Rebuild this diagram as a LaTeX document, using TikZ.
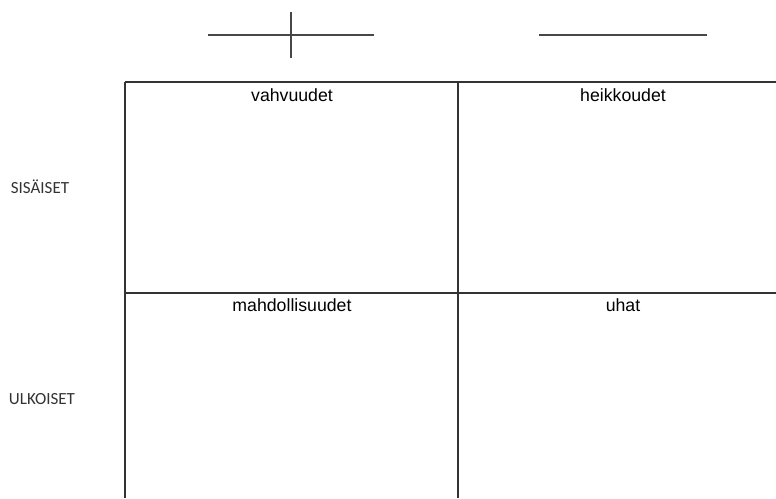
\documentclass[tikz,border=0pt]{standalone}
\usepackage{fontspec}
\setmainfont{Liberation Sans}
\newfontfamily\carlito{Carlito}
\usetikzlibrary{positioning}
\definecolor{inkgray}{HTML}{333333}
\tikzset{
  % ruudukko
  gridline/.style={draw=inkgray,line width=1.8pt},
  signline/.style={draw=inkgray!90,line width=1.6pt},
  cellhead/.style={font=\fontsize{17.7}{19}\selectfont,text=black,inner sep=0pt},
  rowlab/.style={font=\carlito\fontsize{17}{19}\selectfont,text=inkgray,inner sep=0pt},
}
\begin{document}
\begin{tikzpicture}[x=1pt,y=-1pt]
  \useasboundingbox (0,0) rectangle (776,498);
  % plus ja miinus
  \draw[signline] (208,35) -- (374,35);
  \draw[signline] (291,12) -- (291,58);
  \draw[signline] (539,35) -- (707,35);
  % ruudukko
  \coordinate (tl) at (125,82);
  \coordinate (tm) at (458,82);
  \coordinate (tr) at (776,82);
  \coordinate (ml) at (125,293);
  \coordinate (mr) at (776,293);
  \coordinate (bl) at (125,498);
  \coordinate (bm) at (458,498);
  \draw[gridline] (tl) -- (tr) (ml) -- (mr) (tl) -- (bl) (tm) -- (bm);
  % otsikot
  \foreach \t/\x/\y [count=\i] in {vahvuudet/292/95,heikkoudet/623/95,
      mahdollisuudet/292/305,uhat/623/305}
    \node[cellhead] (h\i) at (\x,\y) {\t};
  \node[rowlab] (sis) at (40,187) {SISÄISET};
  \node[rowlab] (ulk) at (42,399) {ULKOISET};
\end{tikzpicture}
\end{document}
